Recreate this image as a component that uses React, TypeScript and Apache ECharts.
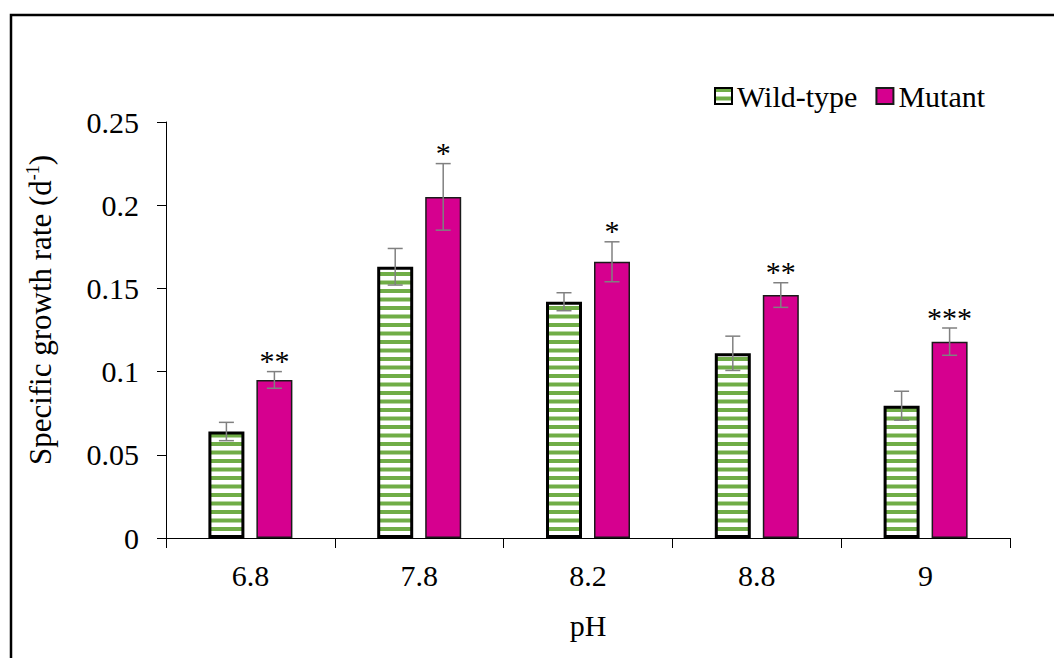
import React, { useEffect, useRef } from "react";
import * as echarts from "echarts";

// pH levels on the x axis
const categories = ["6.8", "7.8", "8.2", "8.8", "9"];
// Specific growth rate (d^-1), mean and error
const wildType = [0.064, 0.163, 0.142, 0.111, 0.0795];
const wildTypeErr = [0.0055, 0.011, 0.0054, 0.0103, 0.0087];
const mutant = [0.095, 0.205, 0.166, 0.146, 0.118];
const mutantErr = [0.005, 0.02, 0.012, 0.0074, 0.0082];
// Significance marks above the mutant bars
const significance = ["**", "*", "*", "**", "***"];
// y axis ticks
const yTicks = [0, 0.05, 0.1, 0.15, 0.2, 0.25];

const FONT = "Liberation Serif";
const FS = 30;
const GREEN = "#70AD47";
const MAGENTA = "#D6008F";
const BAR_W = 36;
const BAR_GAP = 12;
const OFFSET = (BAR_W + BAR_GAP) / 2;

function makeStripes(): HTMLCanvasElement {
  const c = document.createElement("canvas");
  c.width = 8;
  c.height = 17;
  const ctx = c.getContext("2d")!;
  ctx.fillStyle = "#ffffff";
  ctx.fillRect(0, 0, 8, 17);
  ctx.fillStyle = GREEN;
  ctx.fillRect(0, 0, 8, 4);
  ctx.fillRect(0, 8.5, 8, 4);
  return c;
}

function errorBars(values: number[], errs: number[], side: number, marks?: string[]) {
  return {
    type: "custom",
    z: 10,
    silent: true,
    data: values.map((v, i) => [i, v - errs[i], v + errs[i]]),
    renderItem: (_params: any, api: any) => {
      const i = api.value(0);
      const lo = api.coord([i, api.value(1)]);
      const hi = api.coord([i, api.value(2)]);
      const x = lo[0] + side * OFFSET;
      const cap = 7.5;
      const st = { stroke: "#808080", lineWidth: 1.5 };
      const children: any[] = [
        { type: "line", shape: { x1: x, y1: hi[1], x2: x, y2: lo[1] }, style: st },
        { type: "line", shape: { x1: x - cap, y1: hi[1], x2: x + cap, y2: hi[1] }, style: st },
        { type: "line", shape: { x1: x - cap, y1: lo[1], x2: x + cap, y2: lo[1] }, style: st },
      ];
      if (marks) {
        children.push({
          type: "text",
          x,
          y: hi[1] + 4,
          style: {
            text: marks[i],
            fontFamily: FONT,
            fontSize: 30,
            fill: "#000",
            align: "center",
            verticalAlign: "bottom",
          },
        });
      }
      return { type: "group", children };
    },
  };
}

export default function App() {
  const ref = useRef<HTMLDivElement>(null);

  useEffect(() => {
    if (!ref.current) return;
    const chart = echarts.init(ref.current, null, { renderer: "svg" });
    const stripes = makeStripes();
    const stripeFill: any = { image: stripes, repeat: "repeat", imageWidth: 8, imageHeight: 17 };

    chart.setOption({
      animation: false,
      backgroundColor: "#ffffff",
      textStyle: { fontFamily: FONT, color: "#000" },
      grid: { left: 166, right: 44, top: 122, bottom: 120, containLabel: false },
      legend: {
        data: ["Wild-type", "Mutant"],
        left: 709,
        top: 76,
        icon: "rect",
        itemWidth: 17,
        itemHeight: 16,
        itemGap: 18,
        textStyle: { fontFamily: FONT, fontSize: FS, color: "#000", padding: [0, 0, 0, 0] },
      },
      xAxis: {
        type: "category",
        data: categories,
        name: "pH",
        nameLocation: "middle",
        nameGap: 72,
        nameTextStyle: { fontFamily: FONT, fontSize: FS, color: "#000" },
        axisLine: { lineStyle: { color: "#000", width: 1 } },
        axisTick: { show: true, length: 10, lineStyle: { color: "#000" } },
        axisLabel: { fontFamily: FONT, fontSize: FS, color: "#000", margin: 22 },
      },
      yAxis: {
        type: "value",
        min: yTicks[0],
        max: yTicks[yTicks.length - 1],
        interval: yTicks[1] - yTicks[0],
        axisLine: { show: true, lineStyle: { color: "#000", width: 1 } },
        axisTick: { show: true, length: 9, lineStyle: { color: "#000" } },
        splitLine: { show: false },
        axisLabel: { fontFamily: FONT, fontSize: FS, color: "#000", margin: 27 },
      },
      graphic: [
        {
          type: "rect",
          shape: { x: 11, y: 15, width: 1200, height: 800 },
          style: { fill: "none", stroke: "#000", lineWidth: 2.5 },
          silent: true,
        },
        {
          type: "text",
          x: 40,
          y: 310,
          rotation: Math.PI / 2,
          style: {
            text: "{a|Specific growth rate (d}{s|-1}{a|)}",
            align: "center",
            verticalAlign: "middle",
            rich: {
              a: { fontFamily: FONT, fontSize: 31, fill: "#000", lineHeight: 32 },
              s: { fontFamily: FONT, fontSize: 18, fill: "#000", verticalAlign: "top", lineHeight: 32 },
            },
          },
        },
      ],
      series: [
        {
          name: "Wild-type",
          type: "bar",
          data: wildType,
          barWidth: BAR_W,
          barGap: `${(BAR_GAP / BAR_W) * 100}%`,
          itemStyle: { color: stripeFill, borderColor: "#000", borderWidth: 3 },
        },
        {
          name: "Mutant",
          type: "bar",
          data: mutant,
          barWidth: BAR_W,
          barGap: `${(BAR_GAP / BAR_W) * 100}%`,
          itemStyle: { color: MAGENTA, borderColor: "#1a1a1a", borderWidth: 1.5 },
        },
        errorBars(wildType, wildTypeErr, -1),
        errorBars(mutant, mutantErr, 1, significance),
      ],
    });

    return () => chart.dispose();
  }, []);

  return (
    <div
      ref={ref}
      style={{ position: "absolute", left: 0, top: 0, width: 1054, height: 658 }}
    />
  );
}
